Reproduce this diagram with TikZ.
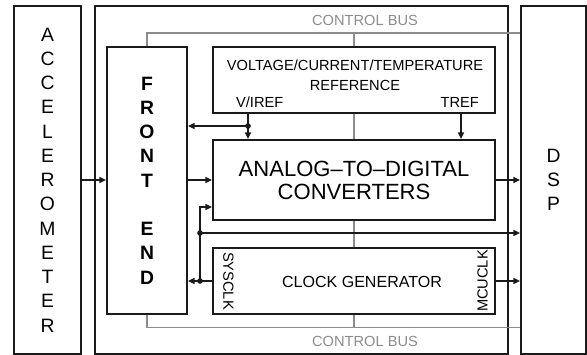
\documentclass[tikz,border=0pt]{standalone}
\usepackage{fontspec}
\setmainfont{Liberation Sans}
\usetikzlibrary{positioning, arrows.meta, calc}
\definecolor{busgray}{HTML}{8C8C8C}
\definecolor{inkblack}{HTML}{1A1A1A}

\begin{document}
\begin{tikzpicture}[x=0.03cm, y=-0.03cm,
    blk/.style={draw=inkblack, line width=1.6pt, inner sep=0pt},
    sig/.style={draw=inkblack, line width=1.2pt, -{Triangle[length=2mm, width=1.8mm]}},
    bus/.style={draw=busgray, line width=1.6pt},
    dot/.style={circle, fill=inkblack, minimum size=1.7mm, inner sep=0pt},
    lbl/.style={font=\fontsize{12.5}{17}\selectfont},
    tall/.style={font=\fontsize{16.5}{20.7}\selectfont, align=center}]
  \useasboundingbox (0,0) rectangle (587,354);

  % outer blocks
  \node[blk, tall, minimum width=2.01cm, minimum height=10.44cm] (acc) at (47.5,180)
    {A\\C\\C\\E\\L\\E\\R\\O\\M\\E\\T\\E\\R};
  \node[blk, minimum width=12.39cm, minimum height=10.44cm] (board) at (301.5,180) {};
  \node[blk, tall, minimum width=1.95cm, minimum height=10.44cm] (dsp) at (553.5,180)
    {D\\S\\P};

  % control bus
  \coordinate (bustop) at (0,32.7);
  \coordinate (busbot) at (0,327.5);
  \node[lbl, text=busgray] (toptxt) at (365,20.5) {CONTROL BUS};
  \node[lbl, text=busgray] (bottxt) at (365,341.5) {CONTROL BUS};

  % inner blocks
  \node[blk, minimum width=2.4cm, minimum height=8.01cm, tall, font=\fontsize{16.5}{20.7}\selectfont\bfseries]
    (fe) at (147,180.5) {F\\R\\O\\N\\T\\[20.7pt]E\\N\\D};
  \node[blk, minimum width=8.46cm, minimum height=1.98cm] (ref) at (354,80) {};
  \node[blk, minimum width=8.46cm, minimum height=2.4cm, align=center,
    font=\fontsize{18.8}{19.6}\selectfont] (adc) at (354,180)
    {ANALOG--TO--DIGITAL\\CONVERTERS};
  \node[blk, minimum width=8.46cm, minimum height=1.98cm] (clk) at (354,281) {};

  \node[lbl, align=center] (reftxt) at (355,75) {VOLTAGE/CURRENT/TEMPERATURE\\REFERENCE};
  \node[lbl, anchor=base west] (vireftxt) at (232,107) {V/IREF};
  \node[lbl, anchor=base east] (treftxt) at (483,107) {TREF};
  \node[font=\fontsize{13.7}{16}\selectfont] (clktxt) at (362,282) {CLOCK GENERATOR};
  \node[lbl, rotate=-90] (sysclk) at (228.5,281) {SYSCLK};
  \node[lbl, rotate=90] (mcuclk) at (482.5,281) {MCUCLK};

  % bus wiring
  \draw[bus] (fe.north) |- (bustop -| dsp.west);
  \draw[bus] (fe.south) |- (busbot -| dsp.west);
  \draw[bus] (ref.north) -- (ref.north |- bustop);
  \draw[bus] (ref.south) -- (adc.north);
  \draw[bus] (adc.south) -- (clk.north);
  \draw[bus] (clk.south) -- (clk.south |- busbot);

  % signals
  \node[dot] (vdot) at (248,126) {};
  \node[dot] (sdot) at (200,281) {};
  \node[dot] (mdot) at (200,233) {};
  \coordinate (sbend) at (200,207);
  \coordinate (tref) at (461,0);
  \draw[sig] (acc.east) -- (acc.east -| fe.west);
  \draw[sig] (fe.east |- adc.west) -- (adc.west);
  \draw[sig] (adc.east) -- (adc.east -| dsp.west);
  \draw[sig] (ref.south -| vdot) -- (adc.north -| vdot);
  \draw[sig] (vdot.center) -- (fe.east |- vdot);
  \draw[sig] (ref.south -| tref) -- (adc.north -| tref);
  \draw[sig] (clk.west) -- (fe.east |- clk.west);
  \draw[sig] (sdot.center) -- (sbend) -- (sbend -| adc.west);
  \draw[sig] (mdot.center) -- (mdot -| dsp.west);
  \draw[sig] (clk.east) -- (clk.east -| dsp.west);
\end{tikzpicture}
\end{document}
